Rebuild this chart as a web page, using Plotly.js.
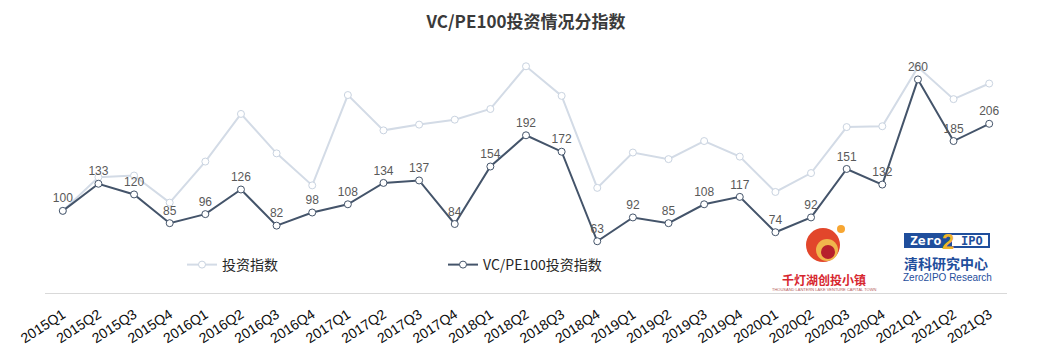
<!DOCTYPE html>
<html>
<head>
<meta charset="utf-8">
<script src="https://cdn.plot.ly/plotly-3.0.1.min.js"></script>
<style>html,body{margin:0;padding:0;background:#fff;}#chart{width:1048px;height:355px;}</style>
</head>
<body>
<div id="chart"></div>
<script>
const quarters = ['2015Q1','2015Q2','2015Q3','2015Q4','2016Q1','2016Q2','2016Q3','2016Q4',
  '2017Q1','2017Q2','2017Q3','2017Q4','2018Q1','2018Q2','2018Q3','2018Q4',
  '2019Q1','2019Q2','2019Q3','2019Q4','2020Q1','2020Q2','2020Q3','2020Q4',
  '2021Q1','2021Q2','2021Q3'];
const investIndex = [100,141,143,110,160,218,170,131,241,198,205,211,224,276,240,128,
  171,163,185,166,123,146,202,203,275,236,255];
const vcpeIndex = [100,133,120,85,96,126,82,98,108,134,137,84,154,192,172,63,
  92,85,108,117,74,92,151,132,260,185,206];
const seriesNames = ['投资指数','VC/PE100投资指数'];
const titleText = 'VC/PE100投资情况分指数';

const W = 1048, H = 355;
const M = {l:45, r:41, t:40, b:62};
const PW = W - M.l - M.r, PH = H - M.t - M.b;
const px = x => (x - M.l) / PW;
const py = y => (H - M.b - y) / PH;

const cjk = 'Noto Sans CJK SC, Liberation Sans, sans-serif';
const latin = 'Liberation Sans, Noto Sans CJK SC, sans-serif';

const traces = [
  {
    x: quarters, y: investIndex, name: seriesNames[0], type: 'scatter', mode: 'lines+markers',
    line: {color: '#D3DBE6', width: 2},
    marker: {symbol: 'circle', size: 7, color: '#ffffff', line: {color: '#C9D3E0', width: 1}},
    hoverinfo: 'x+y'
  },
  {
    x: quarters, y: vcpeIndex, name: seriesNames[1], type: 'scatter', mode: 'lines+markers+text',
    line: {color: '#44546A', width: 2},
    marker: {symbol: 'circle', size: 7, color: '#ffffff', line: {color: '#44546A', width: 1}},
    text: vcpeIndex.map(String), textposition: 'top center',
    textfont: {family: latin, size: 12, color: '#595959'},
    hoverinfo: 'x+y'
  }
];

const shapes = [
  // 千灯湖 logo
  {type:'circle', xref:'paper', yref:'paper', x0:px(806), x1:px(840), y0:py(262), y1:py(228), fillcolor:'#E2462B', line:{width:0}, layer:'above'},
  {type:'circle', xref:'paper', yref:'paper', x0:px(816), x1:px(838), y0:py(261), y1:py(239), fillcolor:'#F0B64C', line:{width:0}, layer:'above'},
  {type:'circle', xref:'paper', yref:'paper', x0:px(821), x1:px(835), y0:py(259), y1:py(245), fillcolor:'#B7202C', line:{width:0}, layer:'above'},
  {type:'circle', xref:'paper', yref:'paper', x0:px(837), x1:px(845), y0:py(233), y1:py(225), fillcolor:'#F7A632', line:{width:0}, layer:'above'},
  // Zero2IPO logo
  {type:'rect', xref:'paper', yref:'paper', x0:px(904), x1:px(990), y0:py(248), y1:py(233), fillcolor:'#1F4E9C', line:{width:0}, layer:'above'},
  {type:'rect', xref:'paper', yref:'paper', x0:px(952), x1:px(988), y0:py(246), y1:py(235), fillcolor:'#ffffff', line:{width:0}, layer:'above'}
];

const annotations = [
  {text:'<b>千灯湖创投小镇</b>', xref:'paper', yref:'paper', x:px(824), y:py(279), showarrow:false,
   font:{family:cjk, size:12, color:'#D7262E'}, xanchor:'center', yanchor:'middle'},
  {text:'THOUSAND LANTERN LAKE VENTURE CAPITAL TOWN', xref:'paper', yref:'paper', x:px(824), y:py(289), showarrow:false,
   font:{family:latin, size:4, color:'#B55A5A'}, xanchor:'center', yanchor:'middle'},
  {text:'<b>Zero</b>', xref:'paper', yref:'paper', x:px(925), y:py(240.5), showarrow:false,
   font:{family:'DejaVu Sans Mono, monospace', size:13, color:'#ffffff'}, xanchor:'center', yanchor:'middle'},
  {text:'<b>IPO</b>', xref:'paper', yref:'paper', x:px(972), y:py(240.5), showarrow:false,
   font:{family:'DejaVu Sans Mono, monospace', size:12, color:'#1F4E9C'}, xanchor:'center', yanchor:'middle'},
  {text:'<b>2</b>', xref:'paper', yref:'paper', x:px(948), y:py(241), showarrow:false,
   font:{family:latin, size:22, color:'#F0B429'}, xanchor:'center', yanchor:'middle'},
  {text:'<b>清科研究中心</b>', xref:'paper', yref:'paper', x:px(946), y:py(263), showarrow:false,
   font:{family:cjk, size:14, color:'#1F4E9C'}, xanchor:'center', yanchor:'middle'},
  {text:'Zero2IPO Research', xref:'paper', yref:'paper', x:px(947), y:py(277), showarrow:false,
   font:{family:latin, size:10, color:'#1F4E9C'}, xanchor:'center', yanchor:'middle'}
];

const layout = {
  width: W, height: H,
  margin: M,
  paper_bgcolor: '#ffffff', plot_bgcolor: '#ffffff',
  title: {text: '<b>' + titleText + '</b>', x: 0.5, xref: 'paper', xanchor: 'center', y: 1 - 22/H, yanchor: 'middle',
          font: {family: cjk, size: 17, color: '#3A3A3A'}},
  xaxis: {
    type: 'category', range: [-0.5, 26.5], showgrid: false, zeroline: false,
    showline: true, linecolor: '#D9D9D9', linewidth: 1, ticks: '',
    ticklabelstandoff: 7,
    tickangle: -33, tickfont: {family: latin, size: 14, color: '#0D0D0D'}, automargin: false
  },
  yaxis: {range: [0, 308], visible: false, showgrid: false, zeroline: false, fixedrange: true},
  showlegend: true,
  legend: {orientation: 'h', x: px(182), xanchor: 'left', y: py(265), yanchor: 'middle',
           font: {family: cjk, size: 14, color: '#262626'}, bgcolor: 'rgba(0,0,0,0)',
           entrywidth: 216, entrywidthmode: 'pixels', itemwidth: 30},
  shapes: shapes,
  annotations: annotations
};

Plotly.newPlot('chart', traces, layout, {displayModeBar: false, staticPlot: true});
</script>
</body>
</html>
